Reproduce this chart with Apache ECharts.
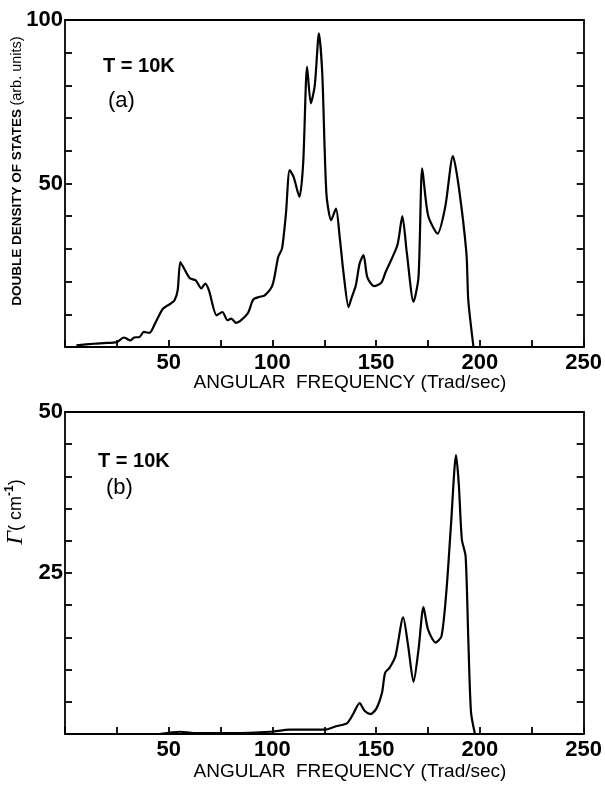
<!DOCTYPE html>
<html>
<head>
<meta charset="utf-8">
<script src="https://cdn.jsdelivr.net/npm/echarts@6/dist/echarts.min.js"></script>
<style>
html,body{margin:0;padding:0;background:#fff;}
#chart{width:605px;height:786px;}
</style>
</head>
<body>
<div id="chart"></div>
<script>
// Panel (a): double density of states
const freqA = [5.5, 14, 18.5, 25, 28.3, 29.6, 31.5, 33.3, 36, 38, 40.7, 43.5, 47.2, 51, 52.8, 54.3, 55.6, 57.4, 60.2, 63, 65.7, 67.6, 69.4, 73.1, 75.9, 78.3, 80.2, 82.4, 88, 90.7, 93.5, 96.3, 100, 102.8, 104.6, 106.5, 108.3, 110.2, 113, 114.8, 116.7, 118.5, 120.4, 122.4, 124, 126, 128.3, 130.6, 132.4, 134.3, 136.7, 138, 140.2, 142, 143.9, 145.7, 149, 152.4, 154.6, 160.2, 162.6, 164.8, 168, 170.4, 172.2, 175, 179.6, 183.3, 187, 189.8, 193.5, 194.4, 196.9];
const dosA = [0.5, 1.0, 1.2, 1.5, 2.9, 2.6, 2.0, 2.9, 3.1, 4.6, 4.3, 7.3, 11.7, 13.3, 14.3, 17.3, 26.0, 24.0, 21.0, 20.4, 17.9, 19.4, 17.3, 9.7, 10.7, 8.2, 8.7, 7.4, 10.2, 14.5, 15.3, 15.8, 18.9, 27.6, 30.1, 40.8, 54.1, 52.0, 45.9, 56.1, 85.7, 74.5, 80.0, 95.9, 83.7, 47.0, 38.8, 42.3, 33.7, 22.4, 12.2, 14.8, 18.9, 25.5, 28.1, 21.4, 18.6, 19.6, 23.0, 31.1, 40.0, 28.6, 13.8, 21.4, 54.6, 40.3, 34.7, 42.9, 58.4, 49.0, 28.6, 14.3, 0];

// Panel (b): damping Gamma
const freqB = [45.4, 55.6, 62, 80.6, 99, 108.3, 117.6, 125, 130.6, 136, 138.9, 142, 144.4, 147.2, 150, 152.8, 154.3, 156.5, 159.3, 163, 165.4, 168, 170.4, 172.8, 175, 178.7, 181.5, 183.9, 186.1, 188.5, 189.8, 191.3, 193.1, 194.4, 195.7, 197.6];
const gammaB = [0, 0.35, 0.15, 0.15, 0.35, 0.67, 0.67, 0.67, 1.2, 1.7, 3.1, 4.8, 3.6, 3.1, 3.9, 6.4, 9.5, 10.3, 12.1, 18.1, 13.7, 8.1, 13.1, 19.7, 16.2, 14.2, 15.2, 22.4, 32.7, 43.3, 38.9, 30.2, 27.6, 14.7, 3.4, 0];

const xLabels = [50, 100, 150, 200, 250];
const yLabelsA = [50, 100];
const yLabelsB = [25, 50];

const pairs = (xs, ys) => xs.map((x, i) => [x, ys[i]]);

const chart = echarts.init(document.getElementById('chart'), null, {renderer: 'canvas'});

const labelFont = {fontFamily: 'Liberation Sans', fontWeight: 'bold', fontSize: 22, color: '#000'};
const lineSt = {color: '#000', width: 1.8};

function xAx(gi) {
  return [{
    type: 'value', gridIndex: gi, min: 0, max: 250, interval: 25, position: 'bottom',
    axisLine: {show: true, onZero: false, lineStyle: lineSt},
    axisTick: {show: true, inside: true, length: 7, lineStyle: lineSt},
    splitLine: {show: false},
    axisLabel: Object.assign({margin: 5, formatter: v => xLabels.includes(v) ? String(v) : ''}, labelFont)
  }, {
    type: 'value', gridIndex: gi, min: 0, max: 250, interval: 25, position: 'top',
    axisLine: {show: true, onZero: false, lineStyle: lineSt},
    axisTick: {show: false}, axisLabel: {show: false}, splitLine: {show: false}
  }];
}
function yAx(gi, max, interval, labels) {
  return [{
    type: 'value', gridIndex: gi, min: 0, max: max, interval: interval, position: 'left',
    axisLine: {show: true, onZero: false, lineStyle: lineSt},
    axisTick: {show: true, inside: true, length: 7, lineStyle: lineSt},
    splitLine: {show: false},
    axisLabel: Object.assign({margin: 2, formatter: v => labels.includes(v) ? String(v) : ''}, labelFont)
  }, {
    type: 'value', gridIndex: gi, min: 0, max: max, interval: interval, position: 'right',
    axisLine: {show: true, onZero: false, lineStyle: lineSt},
    axisTick: {show: true, inside: true, length: 7, lineStyle: lineSt},
    splitLine: {show: false}, axisLabel: {show: false}
  }];
}

const titleStyle = {text: 'ANGULAR  FREQUENCY (Trad/sec)', font: '19px "Liberation Sans"', fill: '#000', textAlign: 'center', textVerticalAlign: 'middle'};

const option = {
  backgroundColor: '#fff',
  animation: false,
  grid: [
    {left: 65, top: 20, width: 523, height: 327},
    {left: 65, top: 412, width: 523, height: 322}
  ],
  xAxis: [...xAx(0), ...xAx(1)],
  yAxis: [...yAx(0, 100, 10, yLabelsA), ...yAx(1, 50, 5, yLabelsB)],
  series: [
    {type: 'line', xAxisIndex: 0, yAxisIndex: 0, data: pairs(freqA, dosA), showSymbol: false, smooth: 0.25,
     lineStyle: {color: '#000', width: 2.2}},
    {type: 'line', xAxisIndex: 2, yAxisIndex: 2, data: pairs(freqB, gammaB), showSymbol: false, smooth: 0.25,
     lineStyle: {color: '#000', width: 2.2}}
  ],
  graphic: [
    {type: 'text', x: 350, y: 383, style: Object.assign({}, titleStyle)},
    {type: 'text', x: 350, y: 772, style: Object.assign({}, titleStyle)},
    {type: 'text', x: 17, y: 171, rotation: Math.PI / 2, style: {
      text: '{b|DOUBLE DENSITY OF STATES} {r|(arb. units)}', textAlign: 'center', textVerticalAlign: 'middle',
      rich: {b: {font: 'bold 13.5px "Liberation Sans"', fill: '#000'}, r: {font: '14.5px "Liberation Sans"', fill: '#000'}}
    }},
    {type: 'text', x: 16, y: 512, rotation: Math.PI / 2, style: {
      text: '{g|Γ}{t|( cm}{s|-1}{t|)}', textAlign: 'center', textVerticalAlign: 'middle',
      rich: {g: {font: 'italic 24px "Liberation Serif"', fill: '#000'}, t: {font: '18px "Liberation Sans"', fill: '#000'}, s: {font: 'bold 12px "Liberation Sans"', fill: '#000', verticalAlign: 'top', padding: [0,0,8,0]}}
    }},
    {type: 'text', x: 103, y: 66, style: {text: 'T = 10K', font: 'bold 20px "Liberation Sans"', fill: '#000', textVerticalAlign: 'middle'}},
    {type: 'text', x: 108, y: 101, style: {text: '(a)', font: '22px "Liberation Sans"', fill: '#000', textVerticalAlign: 'middle'}},
    {type: 'text', x: 98, y: 461, style: {text: 'T = 10K', font: 'bold 20px "Liberation Sans"', fill: '#000', textVerticalAlign: 'middle'}},
    {type: 'text', x: 106, y: 488, style: {text: '(b)', font: '22px "Liberation Sans"', fill: '#000', textVerticalAlign: 'middle'}}
  ]
};
chart.setOption(option);
</script>
</body>
</html>
